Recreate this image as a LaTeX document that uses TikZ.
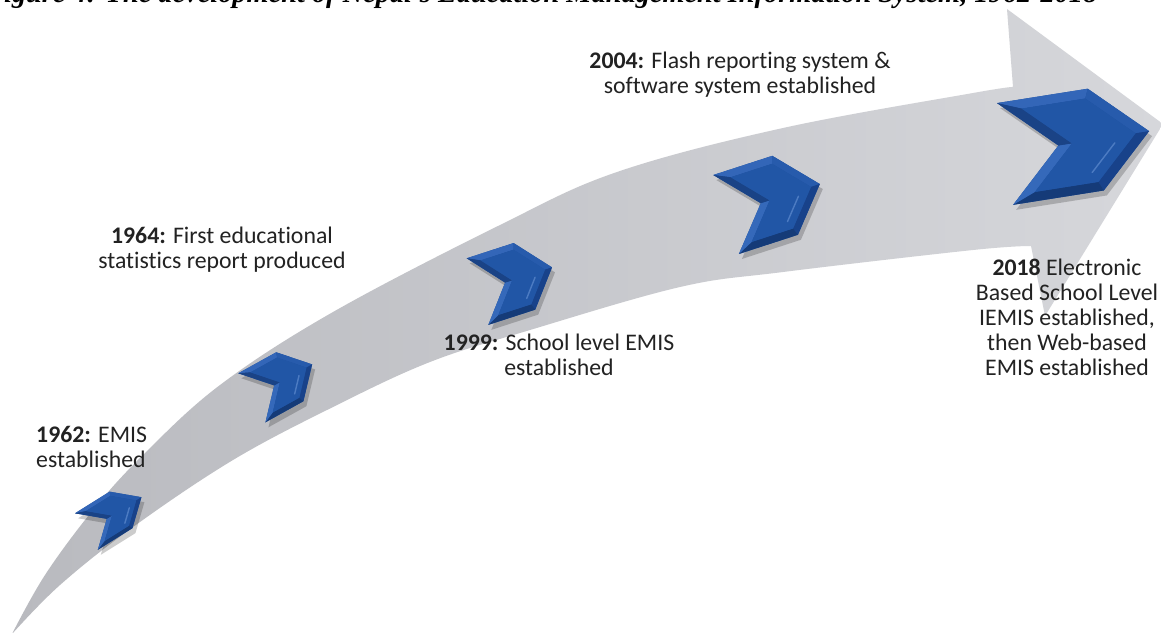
\documentclass[tikz,border=0pt]{standalone}
\usepackage{fontspec}
\setmainfont{Carlito}[Ligatures=NoCommon]
\newfontfamily\capfont{Liberation Serif}
\usetikzlibrary{calc}
\definecolor{txt}{HTML}{222222}
\definecolor{graytail}{HTML}{B9BABF}
\definecolor{grayhead}{HTML}{D6D7DB}
\definecolor{chbase}{HTML}{1E4F9D}
\definecolor{chface}{HTML}{2156A6}
\definecolor{chtop}{HTML}{3366B8}
\definecolor{chupr}{HTML}{275BAC}
\definecolor{chlwr}{HTML}{18428A}
\definecolor{chbot}{HTML}{153B78}
\definecolor{chnlo}{HTML}{3569BA}
\definecolor{chnup}{HTML}{1A4386}
\definecolor{chhi}{HTML}{6A95D6}
\newcommand{\drawchev}[5]{%
  \begin{scope}[shift={(#1+3,#2+5)}, rotate=#3, xscale=#4, yscale=#5]
    \fill[chevshadow] (-0.5,-0.5) -- (0.35,-0.5) -- (0.85,0) -- (0.35,0.5) -- (-0.5,0.5) -- (0,0) -- cycle;
  \end{scope}
  \begin{scope}[shift={(#1,#2)}, rotate=#3, xscale=#4, yscale=#5]
    \fill[chbase] (-0.5,-0.5) -- (0.35,-0.5) -- (0.85,0) -- (0.35,0.5) -- (-0.5,0.5) -- (0,0) -- cycle;
    \fill[chtop] (-0.5,-0.5) -- (0.35,-0.5) -- (0.313,-0.41) -- (-0.283,-0.41) -- cycle;
    \fill[chupr] (0.35,-0.5) -- (0.85,0) -- (0.723,0) -- (0.313,-0.41) -- cycle;
    \fill[chlwr] (0.85,0) -- (0.35,0.5) -- (0.313,0.41) -- (0.723,0) -- cycle;
    \fill[chbot] (0.35,0.5) -- (-0.5,0.5) -- (-0.283,0.41) -- (0.313,0.41) -- cycle;
    \fill[chnlo] (-0.5,0.5) -- (0,0) -- (0.127,0) -- (-0.283,0.41) -- cycle;
    \fill[chnup] (0,0) -- (-0.5,-0.5) -- (-0.283,-0.41) -- (0.127,0) -- cycle;
    \fill[chface] (-0.283,-0.41) -- (0.313,-0.41) -- (0.723,0) -- (0.313,0.41) -- (-0.283,0.41) -- (0.127,0) -- cycle;
    \draw[chevhigh] (0.52,0.06) -- (0.27,0.31);
  \end{scope}}
\begin{document}
\begin{tikzpicture}[x=0.03cm, y=-0.03cm,
  lbl/.style={font=\fontsize{20.3}{21.3}\selectfont, text=txt, inner sep=0pt, align=center},
  captext/.style={font=\capfont\bfseries\itshape\fontsize{24.2}{28}\selectfont, text=black, inner sep=0pt},
  arrowbody/.style={left color=graytail, right color=grayhead},
  chevshadow/.style={black, opacity=0.2},
  chevhigh/.style={chhi, line width=1.2pt, opacity=0.6, line cap=round}]
\useasboundingbox (0,0) rectangle (1161,632);
\fill[white] (0,0) rectangle (1161,632);
\begin{scope}
\clip (0,0) rectangle (1161,632);
\node[captext, anchor=base west] (cap) at (-15,2) {Figure 4: The development of Nepal's Education Management Information System, 1962-2018};
\coordinate (tail) at (12,634);
\coordinate (upj) at (1013,87);
\coordinate (topbarb) at (1007,9);
\coordinate (tip) at (1163,124);
\coordinate (botbarb) at (1045,316);
\coordinate (lowj) at (1031,246);
\shade[arrowbody] (tail)
  -- plot[smooth, tension=0.6] coordinates {(12,634) (45,575) (93,510) (143,455) (220,385) (333,312) (500,225) (617,172) (783,128) (973,93) (1013,87)}
  -- (topbarb) -- (tip) -- (botbarb) -- (lowj)
  -- plot[smooth, tension=0.6] coordinates {(1031,246) (973,250) (783,272) (680,287) (530,330) (430,362) (333,407) (233,460) (133,527) (60,585) (12,634)}
  -- cycle;
\end{scope}
\drawchev{106.8}{518.8}{32}{48}{43}
\drawchev{274.2}{385.4}{29}{51}{56}
\drawchev{505.1}{282.6}{18}{58}{70}
\drawchev{760.8}{203.2}{18}{73}{83}
\drawchev{1058.4}{145.5}{9}{108}{103}
\node[lbl, align=left, anchor=west] (t1962) at (36,447) {\textbf{1962:} EMIS\\established};
\node[lbl] (t1964) at (222,250) {\textbf{1964:} First educational\\statistics report produced};
\node[lbl] (t1999) at (559,355) {\textbf{1999:} School level EMIS\\established};
\node[lbl] (t2004) at (740,75) {\textbf{2004:} Flash reporting system \&\\software system established};
\node[lbl] (t2018) at (1067,317) {\textbf{2018} Electronic\\Based School Level\\IEMIS established,\\then Web-based\\EMIS established};
\end{tikzpicture}
\end{document}
